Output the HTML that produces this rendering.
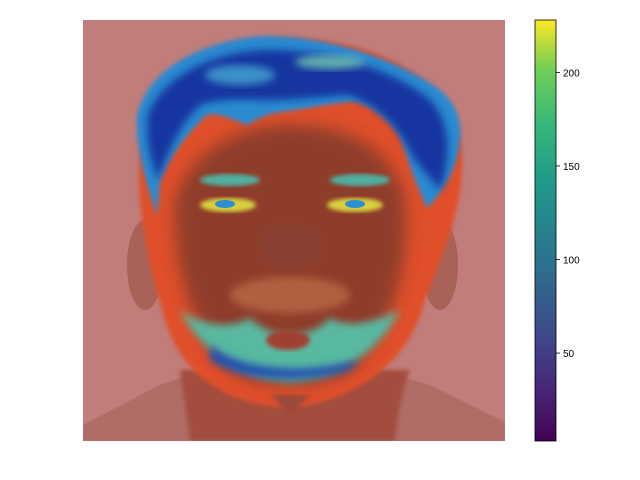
<!DOCTYPE html>
<html><head><meta charset="utf-8"><style>
body{margin:0;background:#fff;font-family:"Liberation Sans",sans-serif}
svg{display:block}
text{font-family:"Liberation Sans",sans-serif;font-size:10px;fill:#000}
</style></head><body>
<svg id="chart" width="640" height="480">
<defs>
<filter id="b4" x="-20%" y="-20%" width="140%" height="140%"><feGaussianBlur stdDeviation="4"/></filter>
<filter id="b8" x="-30%" y="-30%" width="160%" height="160%"><feGaussianBlur stdDeviation="8"/></filter>
<filter id="b2"><feGaussianBlur stdDeviation="2"/></filter>
<clipPath id="imgclip"><rect x="83" y="20" width="422" height="421"/></clipPath>
<linearGradient id="viridis" x1="0" y1="1" x2="0" y2="0">
<stop offset="0" stop-color="#440154"/><stop offset="0.13" stop-color="#482878"/>
<stop offset="0.25" stop-color="#3e4989"/><stop offset="0.38" stop-color="#31688e"/>
<stop offset="0.5" stop-color="#26828e"/><stop offset="0.63" stop-color="#1f9e89"/>
<stop offset="0.75" stop-color="#35b779"/><stop offset="0.88" stop-color="#6ece58"/>
<stop offset="1" stop-color="#fde725"/></linearGradient>
</defs>
<g clip-path="url(#imgclip)">
<rect x="83" y="20" width="422" height="421" fill="#c07d7a"/>
<path d="M83,425 L160,385 L220,365 L360,365 L430,385 L505,422 L505,441 L83,441Z" fill="#b06c66"/>
<ellipse cx="145" cy="265" rx="18" ry="45" fill="#a86258"/>
<ellipse cx="440" cy="265" rx="18" ry="45" fill="#a86258"/>
<path d="M180,370 C185,400 190,441 190,441 L395,441 C398,410 405,380 410,370Z" fill="#a24e3e" filter="url(#b2)"/>
<path d="M140,150 C150,60 230,35 290,38 C380,40 455,80 462,150 C465,210 440,260 425,300 C410,360 360,400 290,408 C220,405 180,370 165,320 C150,270 135,210 140,150Z" fill="#e0502a" filter="url(#b2)"/>
<path d="M175,200 C190,150 240,125 290,125 C350,125 395,150 405,200 C410,260 395,330 350,370 C320,390 260,390 230,370 C190,330 172,260 175,200Z" fill="#8e3c2c" filter="url(#b8)"/>
<path d="M137,115 C150,60 220,38 265,36 C330,36 400,60 440,90 C458,105 462,125 460,140 C458,170 440,195 427,208 L413,175 C405,150 400,135 397,132 C380,110 360,100 347,102 C320,105 300,110 280,112 C265,114 255,120 247,125 C230,118 215,112 207,115 C185,135 168,160 160,182 L157,215 C145,180 135,145 137,115Z" fill="#2a8ad0" filter="url(#b2)"/>
<path d="M148,115 C165,70 225,50 270,50 C330,50 395,70 430,100 C450,120 452,155 440,190 L415,160 C400,130 380,105 347,95 C310,98 290,100 270,100 C240,100 220,98 200,105 C180,125 168,150 158,180 C148,155 146,130 148,115Z" fill="#1535a0" filter="url(#b4)"/>
<ellipse cx="240" cy="75" rx="35" ry="10" fill="#3a90c8" filter="url(#b4)"/>
<ellipse cx="330" cy="62" rx="35" ry="7" fill="#60b0b0" filter="url(#b4)"/>
<ellipse cx="230" cy="180" rx="30" ry="6" fill="#50b0a0" filter="url(#b2)"/>
<ellipse cx="360" cy="180" rx="30" ry="6" fill="#50b0a0" filter="url(#b2)"/>
<ellipse cx="228" cy="205" rx="28" ry="7" fill="#d8d040" filter="url(#b2)"/>
<ellipse cx="355" cy="205" rx="28" ry="7" fill="#d8d040" filter="url(#b2)"/>
<ellipse cx="225" cy="204" rx="10" ry="4" fill="#2a90d0"/>
<ellipse cx="355" cy="204" rx="10" ry="4" fill="#2a90d0"/>
<path d="M260,235 C270,220 310,220 320,235 L322,260 C310,268 275,268 262,260Z" fill="#8a4030" filter="url(#b4)"/>
<ellipse cx="290" cy="295" rx="60" ry="18" fill="#b06040" filter="url(#b4)"/>
<path d="M180,310 C200,350 240,380 290,382 C340,380 380,350 400,310 C380,320 350,330 330,318 C310,340 270,340 250,318 C230,330 200,325 180,310Z" fill="#58b8a0" filter="url(#b4)"/>
<path d="M210,345 C240,370 300,375 360,360 L350,370 C300,385 240,380 210,360Z" fill="#2050b0" filter="url(#b4)"/>
<ellipse cx="288" cy="340" rx="22" ry="10" fill="#a04030" filter="url(#b2)"/>
<path d="M270,395 L310,395 L290,415Z" fill="#9a4a3a" filter="url(#b2)"/>
</g>
<rect x="535" y="20" width="21" height="421" fill="url(#viridis)" stroke="#000" stroke-width="0.8"/>
<g id="cbticks"></g>
</svg>
<script>
const tickValues=[50,100,150,200];
const tickLabels=["50","100","150","200"];
const cbMin=3, cbMax=228;
const cbTop=20, cbBottom=441;
function yScale(v){return cbBottom-(v-cbMin)/(cbMax-cbMin)*(cbBottom-cbTop);}
const g=document.getElementById('cbticks');
const ns='http://www.w3.org/2000/svg';
tickValues.forEach((v,i)=>{
  const y=yScale(v);
  const l=document.createElementNS(ns,'line');
  l.setAttribute('x1',556);l.setAttribute('x2',560);l.setAttribute('y1',y);l.setAttribute('y2',y);
  l.setAttribute('stroke','#000');l.setAttribute('stroke-width','0.8');
  
  
  g.appendChild(l);
  const t=document.createElementNS(ns,'text');
  t.setAttribute('x',563);t.setAttribute('y',y+4);
  t.textContent=tickLabels[i];
  
  
  g.appendChild(t);
});
</script>
</body></html>
